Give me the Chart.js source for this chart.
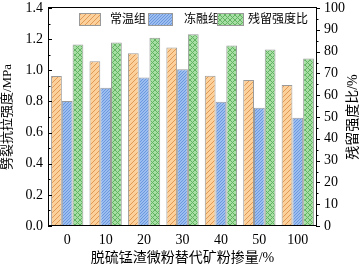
<!DOCTYPE html>
<html>
<head>
<meta charset="utf-8">
<script src="https://cdn.jsdelivr.net/npm/chart.js@4"></script>
<style>
  html, body { margin: 0; padding: 0; background: #fff; }
  #wrap { width: 363px; height: 267px; }
</style>
</head>
<body>
<div id="wrap"><canvas id="mycanvas" width="363" height="267"></canvas></div>
<script>
var categories = ["0", "10", "20", "30", "40", "50", "100"];
var normal = [0.963, 1.058, 1.110, 1.146, 0.965, 0.937, 0.905];
var freezeThaw = [0.802, 0.888, 0.953, 1.006, 0.798, 0.759, 0.695];
var ratio = [83.3, 84.2, 86.3, 88.0, 82.8, 81.0, 76.8];
var leftTicks = [0, 0.2, 0.4, 0.6, 0.8, 1.0, 1.2, 1.4];
var rightTicks = [0, 10, 20, 30, 40, 50, 60, 70, 80, 90, 100];

var FONT = "'Liberation Serif', 'Noto Sans CJK SC', serif";

function makePattern(bg, fg, size, cross) {
  var c = document.createElement("canvas");
  c.width = size; c.height = size;
  var g = c.getContext("2d");
  g.fillStyle = bg;
  g.fillRect(0, 0, size, size);
  g.strokeStyle = fg;
  g.lineWidth = 1;
  g.beginPath();
  g.moveTo(-1, size + 1); g.lineTo(size + 1, -1);
  g.moveTo(-1, 1); g.lineTo(1, -1);
  g.moveTo(size - 1, size + 1); g.lineTo(size + 1, size - 1);
  if (cross) {
    g.moveTo(-1, -1); g.lineTo(size + 1, size + 1);
    g.moveTo(size - 1, -1); g.lineTo(size + 1, 1);
    g.moveTo(-1, size - 1); g.lineTo(1, size + 1);
  }
  g.stroke();
  return g.createPattern(c, "repeat");
}

var ctx = document.getElementById("mycanvas").getContext("2d");
var orangePat = makePattern("#fbd09a", "#e09a55", 5, false);
var bluePat = makePattern("#9cbdf0", "#6b98dc", 3, false);
var greenPat = makePattern("#a6dea4", "#62b462", 5, true);

var legendItems = [
  { text: "常温组", fill: orangePat, bx: 79, bw: 22, tx: 110 },
  { text: "冻融组", fill: bluePat, bx: 148, bw: 25, tx: 184 },
  { text: "残留强度比", fill: greenPat, bx: 217, bw: 27, tx: 248 }
];

var frame = {
  id: "frame",
  afterDraw: function(chart) {
    var c = chart.ctx;
    var a = chart.chartArea;
    var yl = chart.scales.y;
    var yr = chart.scales.y1;
    c.save();
    c.strokeStyle = "#000";
    c.lineWidth = 1;
    c.strokeRect(Math.round(a.left) + 0.5, Math.round(a.top) - 0.5,
      Math.round(a.right - a.left) - 1, Math.round(a.bottom - a.top));
    c.beginPath();
    // left axis ticks, inward
    for (var i = 0; i < leftTicks.length; i++) {
      var py = Math.round(yl.getPixelForValue(leftTicks[i])) + 0.5;
      c.moveTo(a.left, py); c.lineTo(a.left + 4, py);
      if (i < leftTicks.length - 1) {
        var my = Math.round(yl.getPixelForValue(leftTicks[i] + 0.1)) + 0.5;
        c.moveTo(a.left, my); c.lineTo(a.left + 2.5, my);
      }
    }
    // right axis ticks, outward
    for (var j = 0; j < rightTicks.length; j++) {
      var ry = Math.round(yr.getPixelForValue(rightTicks[j])) + 0.5;
      c.moveTo(a.right - 1, ry); c.lineTo(a.right + 3, ry);
      if (j < rightTicks.length - 1) {
        var rm = Math.round(yr.getPixelForValue(rightTicks[j] + 5)) + 0.5;
        c.moveTo(a.right - 1, rm); c.lineTo(a.right + 1.5, rm);
      }
    }
    c.stroke();
    // right title, reads bottom to top like the left one
    c.save();
    c.translate(353, (a.top + a.bottom) / 2);
    c.rotate(-Math.PI / 2);
    c.font = "14px " + FONT;
    c.textAlign = "center";
    c.textBaseline = "middle";
    c.fillStyle = "#000";
    c.fillText("残留强度比/%", 0, 0);
    c.restore();
    // legend
    c.font = "12px " + FONT;
    c.textBaseline = "middle";
    for (var k = 0; k < legendItems.length; k++) {
      var it = legendItems[k];
      c.fillStyle = it.fill;
      c.fillRect(it.bx, 13, it.bw, 13);
      c.strokeStyle = "#999";
      c.strokeRect(it.bx + 0.5, 13.5, it.bw - 1, 12);
      c.fillStyle = "#000";
      c.fillText(it.text, it.tx, 20);
    }
    c.restore();
  }
};

var chartdata = {
  labels: categories,
  datasets: [
    {
      label: "常温组",
      data: normal,
      backgroundColor: orangePat,
      borderColor: "#9a9a9a",
      borderWidth: 1,
      yAxisID: "y"
    },
    {
      label: "冻融组",
      data: freezeThaw,
      backgroundColor: bluePat,
      borderColor: "#9a9a9a",
      borderWidth: 1,
      yAxisID: "y"
    },
    {
      label: "残留强度比",
      data: ratio,
      backgroundColor: greenPat,
      borderColor: "#9a9a9a",
      borderWidth: 1,
      yAxisID: "y1"
    }
  ]
};

var LineGraph = new Chart(ctx, {
  type: "bar",
  data: chartdata,
  plugins: [frame],
  options: {
    responsive: false,
    animation: false,
    layout: { padding: { top: 8, left: 0, right: 0, bottom: 0 } },
    datasets: { bar: { categoryPercentage: 0.84, barPercentage: 1.0 } },
    plugins: {
      legend: { display: false },
      tooltip: { enabled: false }
    },
    scales: {
      x: {
        grid: { display: false, drawTicks: false },
        border: { display: false },
        ticks: { color: "#000", font: { family: FONT, size: 14 }, padding: 6 },
        title: { display: true, text: "脱硫锰渣微粉替代矿粉掺量/%", color: "#000",
          font: { family: FONT, size: 14 }, padding: { top: 0, bottom: 0 } },
        afterFit: function(s) { s.height = 41; }
      },
      y: {
        position: "left",
        min: 0, max: 1.4,
        afterBuildTicks: function(s) { s.ticks = leftTicks.map(function(v) { return { value: v }; }); },
        grid: { display: false, drawTicks: false },
        border: { display: false },
        ticks: { color: "#000", font: { family: FONT, size: 14 }, padding: 5,
          callback: function(v) { return v.toFixed(1); } },
        title: { display: true, text: "劈裂抗拉强度/MPa", color: "#000",
          font: { family: FONT, size: 13 }, padding: { top: 0, bottom: 2 } },
        afterFit: function(s) { s.width = 48; s.paddingTop = 0; s.paddingBottom = 0; }
      },
      y1: {
        position: "right",
        min: 0, max: 100,
        afterBuildTicks: function(s) { s.ticks = rightTicks.map(function(v) { return { value: v }; }); },
        grid: { display: false, drawTicks: false },
        border: { display: false },
        ticks: { color: "#000", font: { family: FONT, size: 14 }, padding: 7 },
        title: { display: false },
        afterFit: function(s) { s.width = 46; s.paddingTop = 0; s.paddingBottom = 0; }
      }
    }
  }
});
</script>
</body>
</html>
